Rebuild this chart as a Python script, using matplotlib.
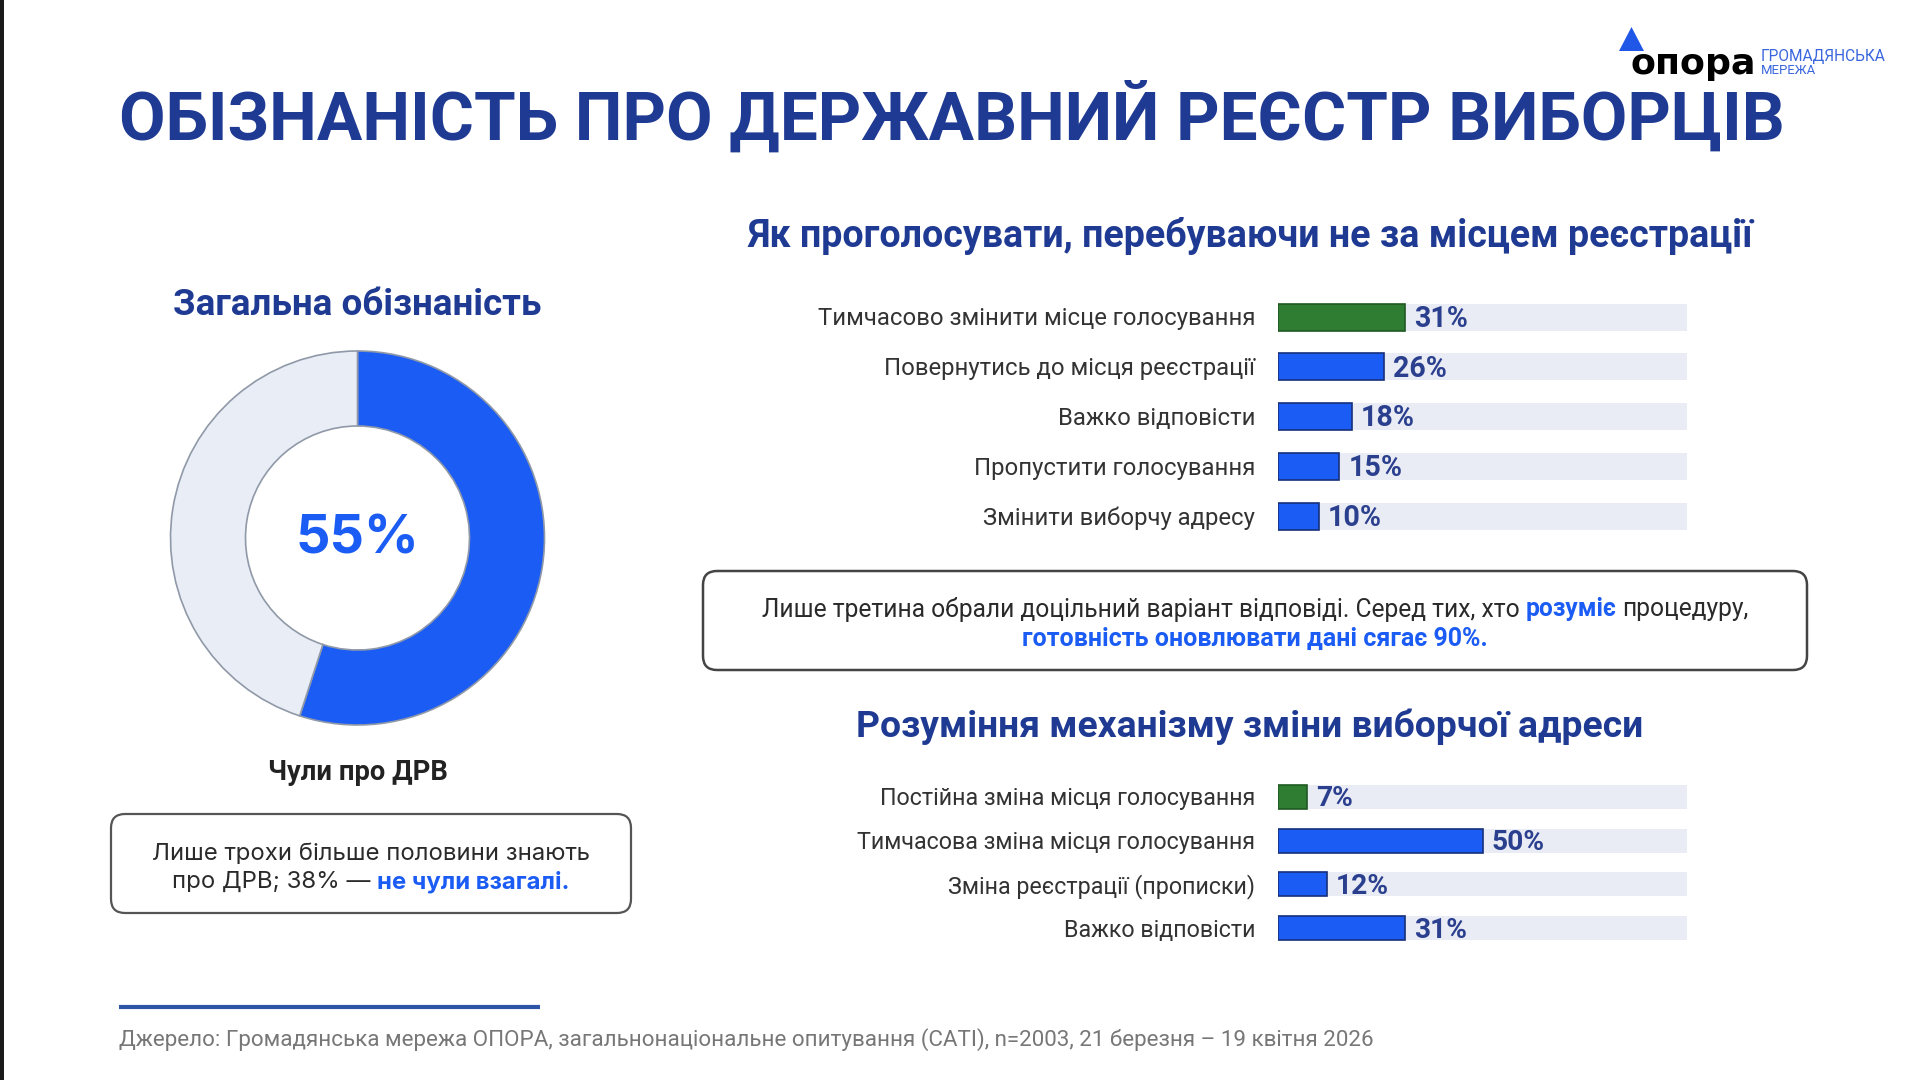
import matplotlib
matplotlib.use('Agg')
import matplotlib.pyplot as plt
from matplotlib.patches import FancyBboxPatch, Polygon, Rectangle

# ---------------- data ----------------
title = "ОБІЗНАНІСТЬ ПРО ДЕРЖАВНИЙ РЕЄСТР ВИБОРЦІВ"
donut_title = "Загальна обізнаність"
donut_label = "Чули про ДРВ"
donut_values = [55, 45]

top_title = "Як проголосувати, перебуваючи не за місцем реєстрації"
top_labels = ["Тимчасово змінити місце голосування", "Повернутись до місця реєстрації",
              "Важко відповісти", "Пропустити голосування", "Змінити виборчу адресу"]
top_values = [31, 26, 18, 15, 10]

bottom_title = "Розуміння механізму зміни виборчої адреси"
bottom_labels = ["Постійна зміна місця голосування", "Тимчасова зміна місця голосування",
                 "Зміна реєстрації (прописки)", "Важко відповісти"]
bottom_values = [7, 50, 12, 31]

source = ("Джерело: Громадянська мережа ОПОРА, загальнонаціональне опитування (CATI), "
          "n=2003, 21 березня – 19 квітня 2026")

NAVY = '#1f3a93'
BLUE = '#1b5cf5'
GREEN = '#2e7d32'
BG = '#e9ecf4'
VAL = '#2b3f8f'

W, H = 1920, 1080
DY = 3  # small vertical text offset
fig = plt.figure(figsize=(19.2, 10.8), dpi=100)
fig.patch.set_facecolor('white')
ax0 = fig.add_axes([0, 0, 1, 1])
ax0.set_xlim(0, W); ax0.set_ylim(H, 0); ax0.axis('off')
renderer = fig.canvas.get_renderer()


def tw(t):
    return t.get_window_extent(renderer).width


def size_for(s, target_w, family='Roboto', weight='normal', base=20):
    t = ax0.text(0, 0, s, fontsize=base, family=family, weight=weight)
    w = tw(t); t.remove()
    return base * target_w / w


def fit_text(x, y, s, target_w, family='Roboto', weight='normal', **kw):
    sz = size_for(s, target_w, family, weight)
    return ax0.text(x, y + DY, s, fontsize=sz, family=family, weight=weight, **kw)


def rich_line(xc, y, segs, family, target_w, base=20):
    # segs: list of (text, weight, color); one space between segments
    def width(s, wt, sz):
        t = ax0.text(0, 0, s, fontsize=sz, family=family, weight=wt)
        w = tw(t); t.remove(); return w
    sp = width('x x', 'normal', base) - width('xx', 'normal', base)
    ws = [width(s, wt, base) for s, wt, c in segs]
    total = sum(ws) + sp * (len(segs) - 1)
    k = target_w / total
    sz = base * k
    x = xc - target_w / 2
    for (s, wt, c), w in zip(segs, ws):
        ax0.text(x, y + DY, s, fontsize=sz, family=family, weight=wt, color=c, ha='left', va='center')
        x += (w + sp) * k


# left dark border
ax0.add_patch(Rectangle((0, 0), 4, H, color='#1a1a1a', lw=0))

# ---------------- title & logo ----------------
fit_text(119, 114, title, 1663, family='Roboto', weight='bold', color=NAVY, ha='left', va='center')
ax0.add_patch(Polygon([(1619, 51), (1644, 51), (1631.5, 27)], closed=True, color='#2157e6', lw=0))
fit_text(1631, 61, "опора", 126, family='DejaVu Sans', weight='bold', color='black', ha='left', va='center')
fit_text(1761, 54, "ГРОМАДЯНСЬКА", 125, family='Roboto', color='#3a66dd', ha='left', va='center')
fit_text(1761, 67, "МЕРЕЖА", 55, family='Roboto', color='#3a66dd', ha='left', va='center')

# ---------------- donut ----------------
fit_text(357, 302, donut_title, 367, family='Roboto', weight='bold', color=NAVY, ha='center', va='center')
R = 200
cx, cy = 357.5, 538
axd = fig.add_axes([(cx - R) / W, 1 - (cy + R) / H, 2 * R / W, 2 * R / H])
axd.pie(donut_values, radius=187 / R, startangle=90, counterclock=False,
        colors=[BLUE, '#e9edf6'],
        wedgeprops=dict(width=75 / R, edgecolor='#9099a8', linewidth=1.2))
axd.set_xlim(-1, 1); axd.set_ylim(-1, 1); axd.set_aspect('equal'); axd.axis('off')
fit_text(cx, cy - 1, f"{donut_values[0]}%", 123, family='Inter', weight='bold', color=BLUE,
         ha='center', va='center')
fit_text(cx, 769, donut_label, 179, family='Roboto', weight='bold', color='#222222', ha='center', va='center')

# left callout
ax0.add_patch(FancyBboxPatch((111, 814), 520, 99, boxstyle='round,pad=0,rounding_size=14',
                             facecolor='white', edgecolor='#555555', lw=1.6))
fit_text(371, 851, "Лише трохи більше половини знають", 437, family='Inter', color='#2a2a2a',
         ha='center', va='center')
rich_line(371, 879, [("про ДРВ; 38% —", 'normal', '#2a2a2a'), ("не чули взагалі.", 'bold', BLUE)],
          'Inter', 398)

# ---------------- bar charts ----------------
def bar_chart(first_px, spacing, labels, values, colors, edges, bar_h_px, lab_size, val_size):
    n = len(labels)
    left, width = 1278, 409
    top = first_px - spacing / 2
    ax = fig.add_axes([left / W, 1 - (top + n * spacing) / H, width / W, n * spacing / H])
    ax.set_xlim(0, 100); ax.set_ylim(n - 0.5, -0.5); ax.axis('off')
    y = list(range(n))
    h = bar_h_px / spacing
    ax.barh(y, [100] * n, height=h, color=BG, edgecolor='none')
    ax.barh(y, values, height=h, color=colors, edgecolor=edges, linewidth=1.2)
    for i, (l, v) in enumerate(zip(labels, values)):
        ax.annotate(l, (0, i), xytext=(-23 * 0.72, -1.4), textcoords='offset points', ha='right',
                    va='center', fontsize=lab_size, family='Roboto', color='#333333')
        ax.annotate(f"{v}%", (v, i), xytext=(9 * 0.72, -1.4), textcoords='offset points', ha='left',
                    va='center', fontsize=val_size, weight='bold', color=VAL, family='Roboto')
    return ax


fit_text(1250, 233, top_title, 1002, family='Roboto', weight='bold', color=NAVY, ha='center', va='center')
top_colors = [GREEN] + [BLUE] * (len(top_values) - 1)
top_edges = ['#1f5a22'] + ['#17307a'] * (len(top_values) - 1)
bar_chart(317, 49.75, top_labels, top_values, top_colors, top_edges, 27,
          size_for(top_labels[0], 436), size_for("26%", 54, weight='bold'))

# right callout
ax0.add_patch(FancyBboxPatch((703, 571), 1104, 99, boxstyle='round,pad=0,rounding_size=14',
                             facecolor='white', edgecolor='#444444', lw=1.8))
rich_line(1255, 606, [("Лише третина обрали доцільний варіант відповіді. Серед тих, хто", 'normal', '#2a2a2a'),
                      ("розуміє", 'bold', BLUE), ("процедуру,", 'normal', '#2a2a2a')], 'Roboto', 986)
fit_text(1255, 636, "готовність оновлювати дані сягає 90%.", 464, family='Roboto', weight='bold',
         color=BLUE, ha='center', va='center')

fit_text(1250, 724, bottom_title, 785, family='Roboto', weight='bold', color=NAVY, ha='center', va='center')
bot_colors = [GREEN] + [BLUE] * (len(bottom_values) - 1)
bot_edges = ['#1f5a22'] + ['#17307a'] * (len(bottom_values) - 1)
bar_chart(797, 43.7, bottom_labels, bottom_values, bot_colors, bot_edges, 24,
          size_for(bottom_labels[1], 400), size_for("50%", 53, weight='bold'))

# ---------------- footer ----------------
ax0.plot([119, 540], [1007, 1007], color='#2e54a8', lw=3, solid_capstyle='butt')
fit_text(119, 1037, source, 1254, family='Roboto', color='#777777', ha='left', va='center')

fig.savefig('out.png', dpi=100, facecolor='white')
